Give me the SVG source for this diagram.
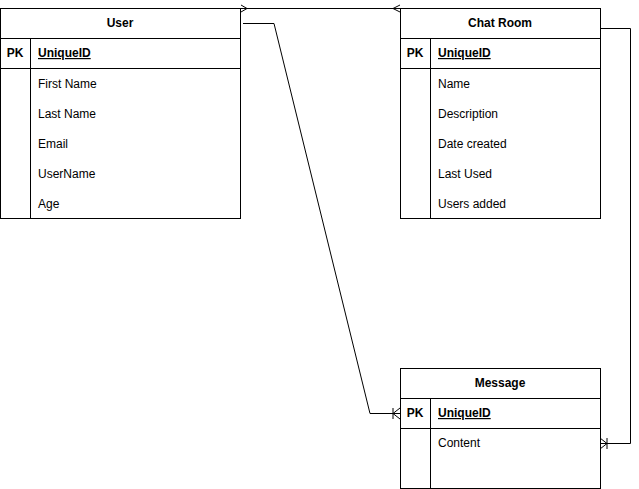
<svg xmlns="http://www.w3.org/2000/svg" width="639" height="489" viewBox="0 0 639 489">
<style>
.b{fill:#fff;stroke:#000;stroke-width:1}
.l{fill:none;stroke:#000;stroke-width:1}
text{font-family:Helvetica,"Liberation Sans",Arial,sans-serif;font-size:12px;fill:#000}
.h{font-weight:bold;text-anchor:middle}
.pk{font-weight:bold;text-anchor:middle}
.u{font-weight:bold;text-decoration:underline}
</style>
<rect width="639" height="489" fill="#fff"/>
<g id="connectors">
<path class="l" d="M241 8.5 H400"/>
<path class="l" d="M241 5 L247 8.5 L241 12"/>
<path class="l" d="M400 5 L393 8.5 L400 12"/>
<path class="l" d="M243 23.5 H274 L370 413.5 H400"/>
<path class="l" d="M393 408 V419 M400 408 L393 413.5 L400 419"/>
<path class="l" d="M600 28.5 H630.5 V443.5 H600"/>
<path class="l" d="M607 438 V449 M600 438 L607 443.5 L600 449"/>
</g>
<g id="user">
<rect class="b" x="0.5" y="8.5" width="240" height="210"/>
<path class="l" d="M0.5 38.5 H240.5 M0.5 68.5 H240.5 M30.5 38.5 V218.5"/>
<text class="h" x="120" y="27">User</text>
<text class="pk" x="15" y="57">PK</text>
<text class="u" x="38" y="57">UniqueID</text>
<text x="38" y="88">First Name</text>
<text x="38" y="118">Last Name</text>
<text x="38" y="148">Email</text>
<text x="38" y="178">UserName</text>
<text x="38" y="208">Age</text>
</g>
<g id="chatroom">
<rect class="b" x="400.5" y="8.5" width="200" height="210"/>
<path class="l" d="M400.5 38.5 H600.5 M400.5 68.5 H600.5 M430.5 38.5 V218.5"/>
<text class="h" x="500" y="27">Chat Room</text>
<text class="pk" x="415" y="57">PK</text>
<text class="u" x="438" y="57">UniqueID</text>
<text x="438" y="88">Name</text>
<text x="438" y="118">Description</text>
<text x="438" y="148">Date created</text>
<text x="438" y="178">Last Used</text>
<text x="438" y="208">Users added</text>
</g>
<g id="message">
<rect class="b" x="400.5" y="368.5" width="200" height="120"/>
<path class="l" d="M400.5 398.5 H600.5 M400.5 428.5 H600.5 M430.5 398.5 V488.5"/>
<text class="h" x="500" y="387">Message</text>
<text class="pk" x="415" y="417">PK</text>
<text class="u" x="438" y="417">UniqueID</text>
<text x="438" y="447">Content</text>
</g>
</svg>
